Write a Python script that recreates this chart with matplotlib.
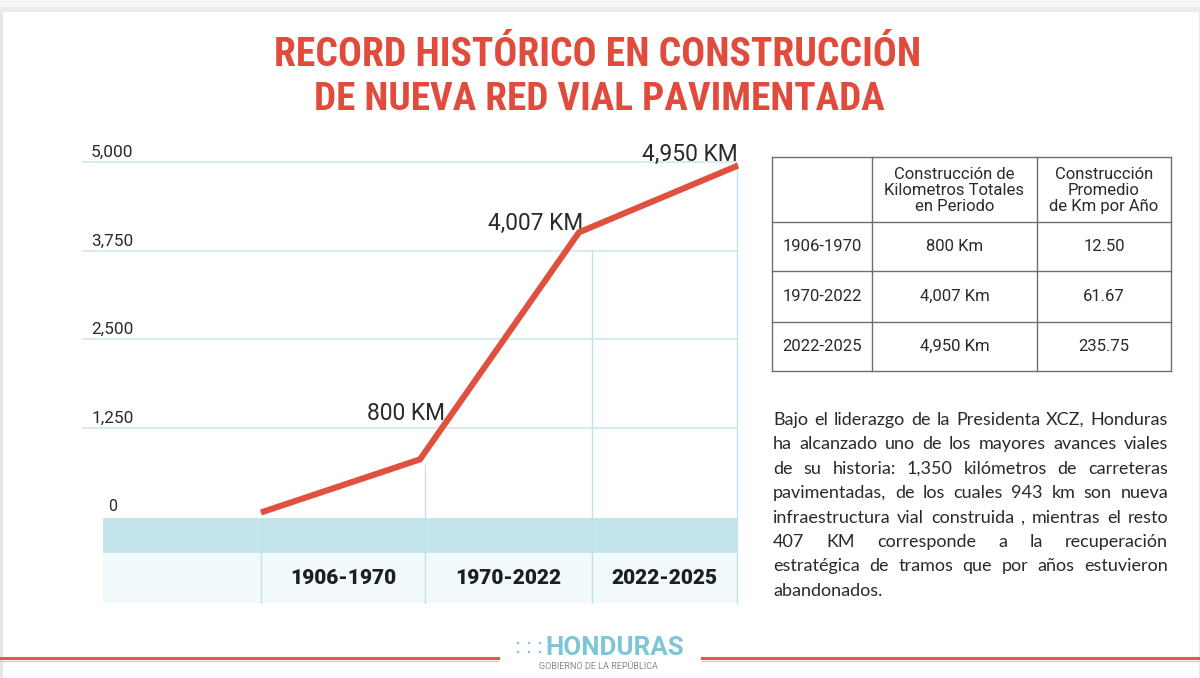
import matplotlib
matplotlib.use("Agg")
import matplotlib.pyplot as plt
from matplotlib.patches import Rectangle
from matplotlib import font_manager as fm

# ---------------- data ----------------
title_lines = ["RECORD HISTÓRICO EN CONSTRUCCIÓN", "DE NUEVA RED VIAL PAVIMENTADA"]
km_values = [50, 800, 4007, 4950]
point_labels = ["", "800 KM", "4,007 KM", "4,950 KM"]
periods = ["1906-1970", "1970-2022", "2022-2025"]
y_ticks = [0, 1250, 2500, 3750, 5000]
y_tick_labels = ["0", "1,250", "2,500", "3,750", "5,000"]

table_header = ["", "Construcción de\nKilometros Totales\nen Periodo",
                "Construcción\nPromedio\nde Km por Año"]
table_periods = ["1906-1970", "1970-2022", "2022-2025"]
table_totals = ["800 Km", "4,007 Km", "4,950 Km"]
table_avg = ["12.50", "61.67", "235.75"]

paragraph_lines = [
    "Bajo el liderazgo de la Presidenta XCZ, Honduras",
    "ha alcanzado uno de los mayores avances viales",
    "de su historia: 1,350 kilómetros de carreteras",
    "pavimentadas, de los cuales 943 km son nueva",
    "infraestructura vial construida , mientras el resto",
    "407 KM corresponde a la recuperación",
    "estratégica de tramos que por años estuvieron",
    "abandonados.",
]
logo_text = "HONDURAS"
logo_sub = "GOBIERNO DE LA REPÚBLICA"

# ---------------- style ----------------
RED = "#e04b3c"
LINE_RED = "#e0503f"
GRID = "#cde6ec"
SEP = "#c2e1e9"
BAND1 = "#c4e5eb"
BAND2 = "#f1f9fb"
DARK = "#2a2a2a"
TBL = "#6e6e6e"
LOGO = "#7ec6d6"
FONT = ["Roboto", "DejaVu Sans"]
PARA_FONT = ["Lato", "DejaVu Sans"]

# look for a condensed bold face for the title, if one is installed
title_prop = fm.FontProperties(family=["Roboto", "DejaVu Sans"], weight="bold")
_cands = []
for f in fm.fontManager.ttflist:
    fn = f.fname.lower()
    if ("condensed" in fn or "narrow" in fn) and "bold" in fn and "italic" not in fn \
            and "oblique" not in fn and "semibold" not in fn and "extrabold" not in fn:
        _cands.append(f.fname)
if _cands:
    _cands.sort(key=lambda s: (0 if "roboto" in s.lower() else 1 if "opensans" in s.lower().replace(" ", "") else 2, s))
    title_prop = fm.FontProperties(fname=_cands[0])

W, H, DPI = 1200, 678, 100
fig = plt.figure(figsize=(W / DPI, H / DPI), dpi=DPI)
fig.patch.set_facecolor("white")
renderer = fig.canvas.get_renderer()

# overlay axes in pixel units for layout elements
pix = fig.add_axes([0, 0, 1, 1])
pix.set_xlim(0, W)
pix.set_ylim(H, 0)
pix.axis("off")

# chart axes: x = point index, y = km
X0_PX, X_STEP_PX = 261, 159
Y0_PX, Y_SCALE = 516, 354 / 5000
ax = fig.add_axes([0, 0, 1, 1], facecolor="none")
ax.set_xlim((0 - X0_PX) / X_STEP_PX, (W - X0_PX) / X_STEP_PX)
ax.set_ylim((Y0_PX - H) / Y_SCALE, Y0_PX / Y_SCALE)
ax.axis("off")


def xpx(p):
    return (p - X0_PX) / X_STEP_PX


def fit_width(t, target):
    w = t.get_window_extent(renderer).width
    t.set_fontsize(t.get_fontsize() * target / w)
    return t


# ---------------- page decoration ----------------
pix.add_patch(Rectangle((0, 0), W, 7, color="#f8f8f8", lw=0))
pix.add_patch(Rectangle((0, 7), W, 5, color="#ebebeb", lw=0))
pix.plot([0.5, 0.5], [12, H], color="#e6e6e6", lw=2)
pix.plot([W - 0.5, W - 0.5], [12, H], color="#e6e6e6", lw=2)

# ---------------- title ----------------
t1 = pix.text(598, 66, title_lines[0], ha="center", va="baseline", color=RED,
              fontproperties=title_prop)
t1.set_fontsize(26)
fit_width(t1, 647)
t2 = pix.text(599, 110, title_lines[1], ha="center", va="baseline", color=RED,
              fontproperties=title_prop)
t2.set_fontsize(26)
fit_width(t2, 572)

# ---------------- chart ----------------
pix.add_patch(Rectangle((103, 518), 737 - 103, 35, color=BAND1, lw=0, zorder=1))
pix.add_patch(Rectangle((103, 553), 737 - 103, 50, color=BAND2, lw=0, zorder=1))
for xs, ytop in [(261, 518), (425, 465), (592, 250), (737, 162)]:
    pix.plot([xs, xs], [ytop, 603], color=SEP, lw=1, zorder=2)

ax.hlines(y_ticks[1:], xpx(82), xpx(737), color=GRID, lw=1.1, zorder=2)
for v, lab in zip(y_ticks, y_tick_labels):
    xl = xpx(108) if v == 0 else xpx(91)
    t = ax.annotate(lab, xy=(xl, v), xytext=(0, 5), textcoords="offset pixels",
                    ha="left", va="baseline", fontsize=12, color=DARK, family=FONT)
    if v != 0:
        fit_width(t, 42)
    else:
        t.set_fontsize(11.5)

xs_idx = list(range(len(km_values)))
ax.plot(xs_idx, km_values, color=LINE_RED, lw=4.4, solid_capstyle="butt",
        solid_joinstyle="miter", zorder=5)

label_offsets = {1: (-14, 39, "center", 78), 2: (4, 2, "right", 95), 3: (0, 5, "right", 96)}
for i, lab in enumerate(point_labels):
    if not lab:
        continue
    dx, dy, ha, wt = label_offsets[i]
    t = ax.annotate(lab, xy=(xs_idx[i], km_values[i]), xytext=(dx, dy),
                    textcoords="offset pixels", ha=ha, va="baseline",
                    fontsize=18, color=DARK, family=FONT)
    fit_width(t, wt)

seps = [261, 425, 592, 737]
for k, p in enumerate(periods):
    cx = (seps[k] + seps[k + 1]) / 2
    t = pix.text(cx, 584, p, ha="center", va="baseline", fontsize=12,
                 fontweight="black", color="#1e1e1e", family=FONT, zorder=3)
    fit_width(t, 106)

# ---------------- table ----------------
tx = [772, 872, 1037, 1171]
ty = [157, 222, 271, 322, 371]
for x in tx:
    pix.plot([x, x], [ty[0], ty[-1]], color=TBL, lw=1)
for y in ty:
    pix.plot([tx[0], tx[-1]], [y, y], color=TBL, lw=1)

TFS = 12
for c in (1, 2):
    cx = (tx[c] + tx[c + 1]) / 2
    pix.text(cx, (ty[0] + ty[1]) / 2 + 1, table_header[c], ha="center", va="center",
             fontsize=TFS, color=DARK, family=FONT, linespacing=1.1)
for r in range(3):
    cy = (ty[r + 1] + ty[r + 2]) / 2
    for c, col in enumerate([table_periods, table_totals, table_avg]):
        cx = (tx[c] + tx[c + 1]) / 2
        pix.text(cx, cy, col[r], ha="center", va="center", fontsize=TFS,
                 color=DARK, family=FONT)

# ---------------- paragraph (justified) ----------------
PX0, PX1 = 773, 1168
base0, dline = 425, 24.4


def width_of(s, fs):
    t = pix.text(0, 0, s, fontsize=fs, family=PARA_FONT)
    w = t.get_window_extent(renderer).width
    t.remove()
    return w


fs = 13.0
sp = width_of("a a", fs) - width_of("aa", fs)
worst = max(sum(width_of(wd, fs) for wd in ln.split()) + 0.55 * sp * (len(ln.split()) - 1)
            for ln in paragraph_lines[:-1])
if worst > PX1 - PX0:
    fs *= (PX1 - PX0) / worst

for li, ln in enumerate(paragraph_lines):
    y = base0 + li * dline
    words = ln.split()
    widths = [width_of(wd, fs) for wd in words]
    if li == len(paragraph_lines) - 1 or len(words) == 1:
        pix.text(PX0, y, ln, ha="left", va="baseline", fontsize=fs,
                 color=DARK, family=PARA_FONT)
        continue
    gap = (PX1 - PX0 - sum(widths)) / (len(words) - 1)
    x = PX0
    for wd, w in zip(words, widths):
        pix.text(x, y, wd, ha="left", va="baseline", fontsize=fs,
                 color=DARK, family=PARA_FONT)
        x += w + gap

# ---------------- footer ----------------
pix.plot([0, 498], [658, 658], color="#e35a4b", lw=2.2)
pix.plot([702, W], [658, 658], color="#e35a4b", lw=2.2)
pix.plot([0, 498], [660.5, 660.5], color="#f3c3bb", lw=1)
pix.plot([702, W], [660.5, 660.5], color="#f3c3bb", lw=1)
lt = pix.text(545, 655, logo_text, ha="left", va="baseline", fontsize=15,
              fontweight="bold", color=LOGO, family=FONT)
fit_width(lt, 139)
pix.scatter([518, 529, 540, 518, 529, 540], [643, 643, 643, 652, 652, 652],
            s=[3, 3, 3, 3, 3, 3], color=LOGO, lw=0)
st = pix.text(598, 669, logo_sub, ha="center", va="baseline", fontsize=4.2,
              color="#888888", family=FONT)
fit_width(st, 120)

fig.savefig("out.png", dpi=DPI, facecolor="white")
